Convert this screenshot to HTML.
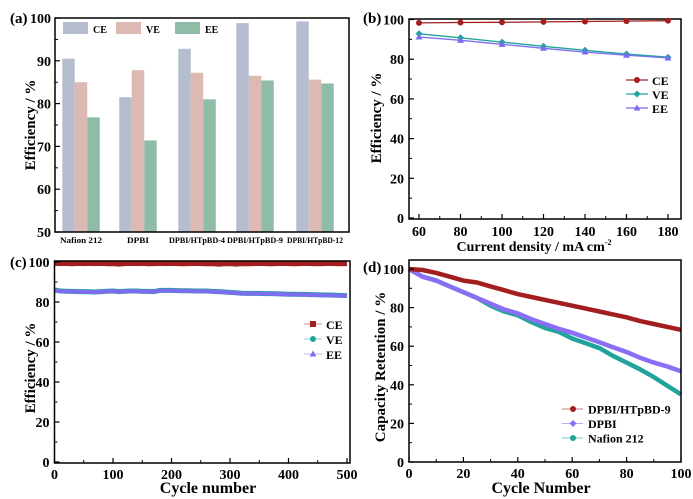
<!DOCTYPE html>
<html><head><meta charset="utf-8">
<style>
html,body{margin:0;padding:0;background:#fff;}
svg{display:block;font-family:"Liberation Serif",serif;font-weight:bold;}
</style></head>
<body>
<svg id="fig" width="693" height="499" viewBox="0 0 693 499" xmlns="http://www.w3.org/2000/svg"></svg>
<script>
// ---- Panel (a) data ----
const aCategories=["Nafion 212","DPBI","DPBI/HTpBD-4","DPBI/HTpBD-9","DPBI/HTpBD-12"];
const aCE=[90.5,81.5,92.8,98.8,99.2];
const aVE=[85.0,87.8,87.2,86.5,85.6];
const aEE=[76.8,71.4,81.0,85.4,84.7];
const aTicks=[50,60,70,80,90,100];
// ---- Panel (b) data ----
const bX=[60,80,100,120,140,160,180];
const bCE=[98.3,98.5,98.6,98.8,99.0,99.2,99.4];
const bVE=[92.8,90.8,88.6,86.5,84.5,82.6,81.0];
const bEE=[91.2,89.5,87.5,85.5,83.6,82.0,80.6];
const bYTicks=[0,20,40,60,80,100];
// ---- Panel (c) data (sampled every 10 cycles) ----
const cX=[0,10,20,30,40,50,60,70,80,90,100,110,120,130,140,150,160,170,180,190,200,210,220,230,240,250,260,270,280,290,300,310,320,330,340,350,360,370,380,390,400,410,420,430,440,450,460,470,480,490,500];
const cCE=[99.3,99.2,99.3,99.1,99.3,99.2,99.3,99.2,99.3,99.1,99.2,98.9,99.2,99.3,99.2,99.3,99.1,99.2,99.3,99.2,99.3,99.2,99.1,99.2,99.3,99.2,99.1,99.2,98.9,99.1,99.2,98.9,99.2,99.1,99.2,99.3,99.2,99.1,99.2,99.3,99.2,99.1,99.2,99.3,99.2,99.1,99.2,99.3,99.2,99.1,99.2];
const cVE=[86.0,85.5,85.4,85.3,85.2,85.2,85.1,85.0,85.2,85.4,85.5,85.2,85.4,85.5,85.5,85.3,85.3,85.2,85.8,85.8,85.8,85.7,85.6,85.6,85.5,85.5,85.5,85.3,85.2,85.0,84.8,84.6,84.4,84.3,84.3,84.3,84.2,84.2,84.1,84.0,83.9,83.9,83.8,83.8,83.7,83.6,83.5,83.5,83.4,83.3,83.2];
const cEE=[85.8,85.4,85.3,85.2,85.1,85.1,85.0,84.9,85.1,85.3,85.4,85.1,85.3,85.4,85.4,85.2,85.2,85.1,85.7,85.7,85.7,85.6,85.5,85.5,85.4,85.4,85.4,85.2,85.1,84.9,84.7,84.5,84.3,84.2,84.2,84.2,84.1,84.1,84.0,83.9,83.8,83.8,83.7,83.7,83.6,83.5,83.4,83.4,83.3,83.2,83.1];
const cXTicks=[0,100,200,300,400,500];
const cYTicks=[0,20,40,60,80,100];
// ---- Panel (d) data (every 5 cycles) ----
const dX=[0,5,10,15,20,25,30,35,40,45,50,55,60,65,70,75,80,85,90,95,100];
const dHT=[100,99.5,98,96,94,93,91,89,87,85.5,84,82.5,81,79.5,78,76.5,75,73,71.5,70,68.5];
const dDPBI=[100,96,94,91,88,85,82,79,77,74,71.5,69,67,64.5,62,59.5,57,54,51.5,49.5,47];
const dNaf=[100,96,94,91,88,85,81,78,76,72.5,69.5,67.5,64,61.5,59,55,51.5,48,44,39.5,35];
const dXTicks=[0,20,40,60,80,100];
const dYTicks=[0,20,40,60,80,100];

const NS="http://www.w3.org/2000/svg";
const svg=document.getElementById('fig');
function mk(tag,attrs,parent){const e=document.createElementNS(NS,tag);for(const k in attrs)e.setAttribute(k,attrs[k]);(parent||svg).appendChild(e);return e;}
function txt(s,x,y,size,anchor,parent,extra){const t=mk('text',Object.assign({x:x,y:y,'font-size':size,'text-anchor':anchor||'middle'},extra||{}),parent);t.textContent=s;return t;}
function lin(d0,d1,p0,p1){return v=>p0+(v-d0)*(p1-p0)/(d1-d0);}
function path(xs,ys,fx,fy){return xs.map((x,i)=>(i?'L':'M')+fx(x).toFixed(1)+' '+fy(ys[i]).toFixed(1)).join(' ');}

// ===== Panel A =====
(function(){
 const g=mk('g',{});
 
 
 const L=55,R=349,T=18,B=232;
 const fy=lin(50,100,B,T);
 const centers=[81,138,197,255,315];
 const bw=12.5;
 const cols=['#b5bdcf','#ddb9b4','#8fbca6'];
 const series=[aCE,aVE,aEE];
 const names=['ce','ve','ee'];
 series.forEach((s,si)=>{s.forEach((v,i)=>{
   const r=mk('rect',{x:centers[i]+(si-1.5)*bw,y:fy(v),width:bw,height:B-fy(v),fill:cols[si]},g);
   
   
 });});
 mk('rect',{x:L,y:T,width:R-L,height:B-T,fill:'none',stroke:'#000','stroke-width':1.5},g);
 aTicks.forEach(t=>{mk('line',{x1:L,x2:L+5,y1:fy(t),y2:fy(t),stroke:'#000','stroke-width':1.2},g);
   const tl=txt(String(t),L-4,fy(t)+5,14,'end',g);
   
   
   if(t<100) mk('line',{x1:L,x2:L+3,y1:fy(t+5),y2:fy(t+5),stroke:'#000'},g);});
 const labW=[42,22,56,56,56];
 aCategories.forEach((c,i)=>{const tl=txt(c,centers[i],243,8.5,'middle',g,{textLength:labW[i],lengthAdjust:'spacingAndGlyphs'});
   
   });
 const yt=txt('Efficiency / %',0,0,15,'middle',g,{transform:'translate(35,125) rotate(-90)'});
 
 
 const pl=txt('(a)',10,23,15,'start',g);
 
 
 const lg=[['CE',63],['VE',116],['EE',175]];
 lg.forEach((l,i)=>{const le=mk('g',{},g);
   
   
   mk('rect',{x:l[1],y:22,width:25,height:12,fill:cols[i]},le);
   txt(l[0],l[1]+30,33,10,'start',le);});
})();

// ===== Panel B =====
(function(){
 const g=mk('g',{});
 
 
 const L=409,R=681,T=19,B=219;
 const fx=lin(60,180,419,668), fy=lin(0,100,218,19.5);
 mk('rect',{x:L,y:T,width:R-L,height:B-T,fill:'none',stroke:'#000','stroke-width':1.5},g);
 bYTicks.forEach(t=>{mk('line',{x1:L,x2:L+5,y1:fy(t),y2:fy(t),stroke:'#000','stroke-width':1.2},g);
   if(t<100) mk('line',{x1:L,x2:L+3,y1:fy(t+10),y2:fy(t+10),stroke:'#000'},g);
   const tl=txt(String(t),L-5,fy(t)+5,14,'end',g);
   
   });
 bX.forEach(t=>{mk('line',{x1:fx(t),x2:fx(t),y1:B,y2:B-5,stroke:'#000','stroke-width':1.2},g);
   if(t<180) mk('line',{x1:fx(t+10),x2:fx(t+10),y1:B,y2:B-3,stroke:'#000'},g);
   const tl=txt(String(t),fx(t),236,14,'middle',g);
   
   });
 const xt=txt('Current density / mA cm',534,251,14,'middle',g);
 
 
 const sup=mk('tspan',{'font-size':8,dy:-6},xt); sup.textContent='-2';
 const yt=txt('Efficiency / %',0,0,15,'middle',g,{transform:'translate(381,118) rotate(-90)'});
 
 
 const pl=txt('(b)',363,23,15,'start',g);
 
 
 const ser=[[bCE,'#a31f1f','circle','ce'],[bVE,'#1fa39a','diamond','ve'],[bEE,'#7b6cf0','tri','ee']];
 function marker(sh,x,y,c,parent){
   if(sh==='circle')mk('circle',{cx:x,cy:y,r:3,fill:c},parent);
   else if(sh==='diamond')mk('path',{d:`M${x} ${y-3.5}L${x+3.5} ${y}L${x} ${y+3.5}L${x-3.5} ${y}Z`,fill:c},parent);
   else mk('path',{d:`M${x} ${y-3.5}L${x+3.5} ${y+2.5}L${x-3.5} ${y+2.5}Z`,fill:c},parent);}
 ser.forEach((s,si)=>{const sg=mk('g',{},g);
   
   
   mk('path',{d:path(bX,s[0],fx,fy),fill:'none',stroke:s[1],'stroke-width':1.3},sg);
   bX.forEach((x,i)=>marker(s[2],fx(x),fy(s[0][i]),s[1],sg));
   const ly=80+si*14;
   const le=mk('g',{},g);
   
   
   mk('line',{x1:626,x2:648,y1:ly,y2:ly,stroke:s[1],'stroke-width':1.3},le);
   marker(s[2],637,ly,s[1],le);
   txt(s[3].toUpperCase(),652,ly+5,12,'start',le);});
})();

// ===== Panel C =====
(function(){
 const g=mk('g',{});
 
 
 const L=54.5,R=350,T=261,B=463;
 const fx=lin(0,500,L,347), fy=lin(0,100,462,262);
 const ser=[[cCE,'#a31f1f','ce'],[cVE,'#1fa39a','ve'],[cEE,'#7b6cf0','ee']];
 ser.forEach(s=>{const p=mk('path',{d:path(cX,s[0],fx,fy),fill:'none',stroke:s[1],'stroke-width':s[2]==='ee'?4:5,'stroke-linejoin':'round'},g);
   
   });
 mk('rect',{x:L,y:T,width:R-L,height:B-T,fill:'none',stroke:'#000','stroke-width':1.5},g);
 cYTicks.forEach(t=>{mk('line',{x1:L,x2:L+5,y1:fy(t),y2:fy(t),stroke:'#000','stroke-width':1.2},g);
   if(t<100) mk('line',{x1:L,x2:L+3,y1:fy(t+10),y2:fy(t+10),stroke:'#000'},g);
   const tl=txt(String(t),L-5,fy(t)+5,14,'end',g);
   
   });
 cXTicks.forEach(t=>{mk('line',{x1:fx(t),x2:fx(t),y1:B,y2:B-5,stroke:'#000','stroke-width':1.2},g);
   if(t<500) mk('line',{x1:fx(t+50),x2:fx(t+50),y1:B,y2:B-3,stroke:'#000'},g);
   const tl=txt(String(t),fx(t),479,14,'middle',g);
   
   });
 const xt=txt('Cycle number',208,493,16,'middle',g);
 
 
 const yt=txt('Efficiency / %',0,0,15,'middle',g,{transform:'translate(35,368) rotate(-90)'});
 
 
 const pl=txt('(c)',10,267,15,'start',g);
 
 
 const lg=[['CE','#a31f1f','sq'],['VE','#1fa39a','circ'],['EE','#7b6cf0','tri']];
 lg.forEach((l,i)=>{const ly=324+i*15;const le=mk('g',{},g);
   
   
   mk('line',{x1:304,x2:322,y1:ly,y2:ly,stroke:l[1],'stroke-width':1,opacity:0.5},le);
   if(l[2]==='sq')mk('rect',{x:310,y:ly-3,width:6,height:6,fill:l[1]},le);
   else if(l[2]==='circ')mk('circle',{cx:313,cy:ly,r:3,fill:l[1]},le);
   else mk('path',{d:`M313 ${ly-3.5}L316.5 ${ly+2.5}L309.5 ${ly+2.5}Z`,fill:l[1]},le);
   txt(l[0],326,ly+5,12,'start',le);});
})();

// ===== Panel D =====
(function(){
 const g=mk('g',{});
 
 
 const L=409,R=681,T=260,B=462;
 const fx=lin(0,100,409,681), fy=lin(0,100,462,269);
 const ser=[[dNaf,'#1fa39a','nafion-212','Nafion 212'],[dDPBI,'#8a6ff5','dpbi','DPBI'],[dHT,'#a31f1f','dpbi-htpbd-9','DPBI/HTpBD-9']];
 ser.forEach(s=>{const p=mk('path',{d:path(dX,s[0],fx,fy),fill:'none',stroke:s[1],'stroke-width':4.5,'stroke-linejoin':'round'},g);
   
   });
 mk('rect',{x:L,y:T,width:R-L,height:B-T,fill:'none',stroke:'#000','stroke-width':1.5},g);
 dYTicks.forEach(t=>{mk('line',{x1:L,x2:L+5,y1:fy(t),y2:fy(t),stroke:'#000','stroke-width':1.2},g);
   if(t<100) mk('line',{x1:L,x2:L+3,y1:fy(t+10),y2:fy(t+10),stroke:'#000'},g);
   const tl=txt(String(t),L-5,fy(t)+5,14,'end',g);
   
   });
 dXTicks.forEach(t=>{mk('line',{x1:fx(t),x2:fx(t),y1:B,y2:B-5,stroke:'#000','stroke-width':1.2},g);
   if(t<100) mk('line',{x1:fx(t+10),x2:fx(t+10),y1:B,y2:B-3,stroke:'#000'},g);
   const tl=txt(String(t),fx(t),478,14,'middle',g);
   
   });
 const xt=txt('Cycle Number',541,493,16,'middle',g);
 
 
 const yt=txt('Capacity Retention / %',0,0,15,'middle',g,{transform:'translate(385,367) rotate(-90)'});
 
 
 const pl=txt('(d)',363,272,15,'start',g);
 
 
 const lg=[['DPBI/HTpBD-9','#a31f1f'],['DPBI','#8a6ff5'],['Nafion 212','#1fa39a']];
 lg.forEach((l,i)=>{const ly=409+i*14.5;const le=mk('g',{},g);
   
   
   mk('line',{x1:562,x2:583,y1:ly,y2:ly,stroke:l[1],'stroke-width':1,opacity:0.6},le);
   if(i===1)mk('path',{d:`M573 ${ly-3.5}L576.5 ${ly}L573 ${ly+3.5}L569.5 ${ly}Z`,fill:l[1]},le);
   else mk('circle',{cx:573,cy:ly,r:3,fill:l[1]},le);
   txt(l[0],588,ly+4.5,12,'start',le);});
})();
</script>
</body></html>
